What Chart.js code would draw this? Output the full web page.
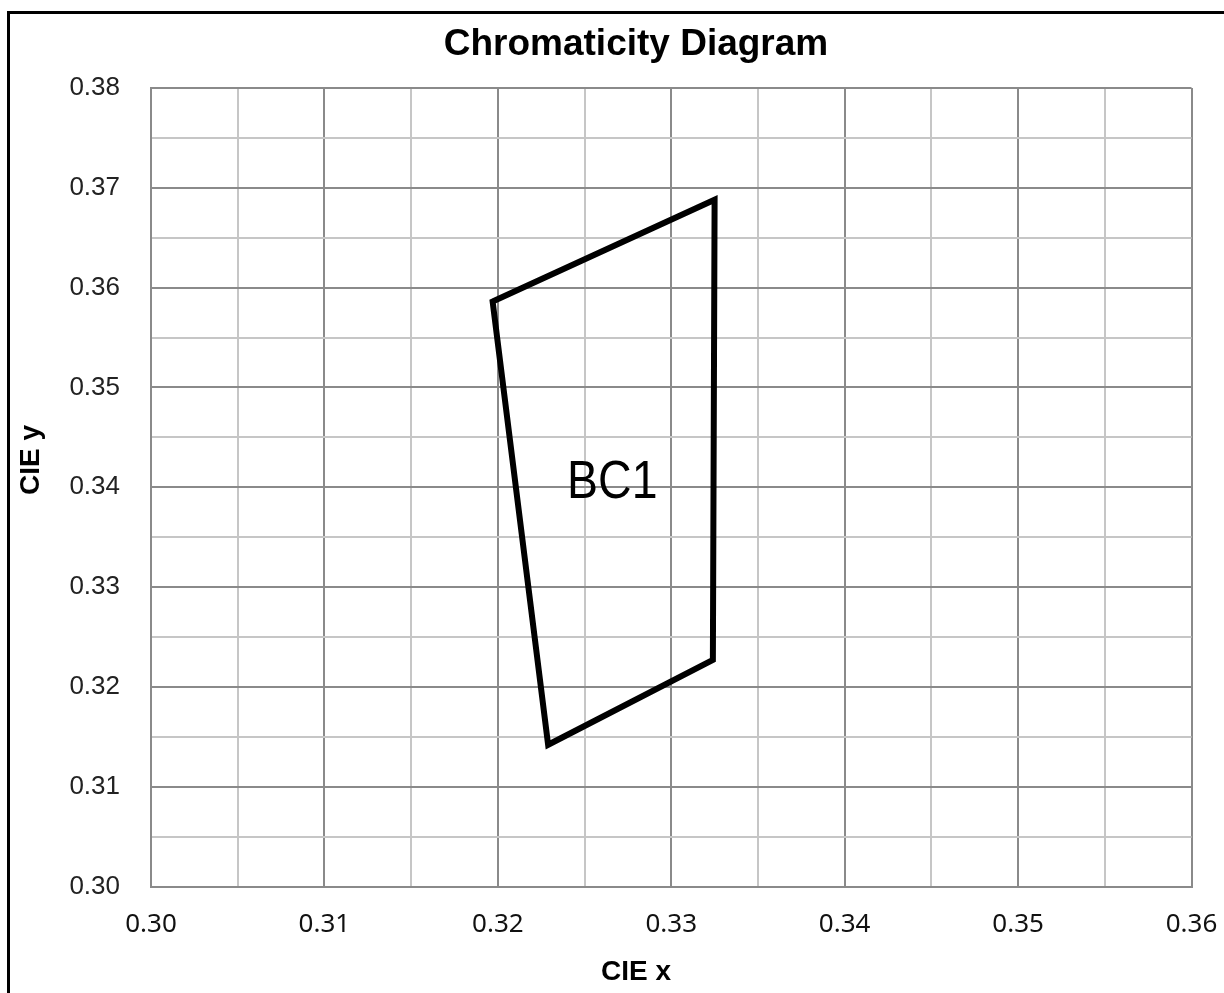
<!DOCTYPE html>
<html>
<head>
<meta charset="utf-8">
<title>Chromaticity Diagram</title>
<script src="https://cdn.jsdelivr.net/npm/chart.js@4.4.1/dist/chart.umd.min.js"></script>
<style>
  html, body { margin: 0; padding: 0; background: #fff; overflow: hidden; }
  #wrap { position: relative; width: 1224px; height: 993px; overflow: hidden; }
  #frame {
    position: absolute; left: 7px; top: 11px; width: 1400px; height: 1200px;
    border: 3px solid #000; pointer-events: none;
  }
  canvas { position: absolute; left: 0; top: 0; }
</style>
</head>
<body>
<div id="wrap">
  <canvas id="chart" width="1264" height="993"></canvas>
  <div id="frame"></div>
</div>
<script>
// BC1 quadrangle corners (CIE x, CIE y); the outline runs round once and
// goes on to the second corner again so the first corner gets a proper join
const cornerX = [0.3197, 0.3325, 0.3324, 0.3229, 0.3197, 0.3325]
const cornerY = [0.3586, 0.3688, 0.3227, 0.3142, 0.3586, 0.3688]

const regionLabels = ['BC1']
const regionLabelX = [0.3266]
const regionLabelY = [0.3404]

const xMin = 0.30, xMax = 0.36
const yMin = 0.30, yMax = 0.38
const gridStep = 0.005

const xTitle = 'CIE x'
const yTitle = 'CIE y'

const isMajor = v => Math.round(v * 1000) % 10 === 0
const tickText = v => isMajor(v) ? v.toFixed(2) : ''
const gridColor = ctx => (ctx.tick && isMajor(ctx.tick.value)) ? '#8a8a8a' : '#c6c6c6'

// writes the region name inside the shape (squeezed a little, like a narrow face)
const regionText = {
  id: 'regionText',
  afterDatasetsDraw(chart) {
    const {ctx, scales} = chart
    ctx.save()
    ctx.fillStyle = '#000'
    ctx.font = '54px Arial, "Liberation Sans", sans-serif'
    ctx.textAlign = 'center'
    ctx.textBaseline = 'middle'
    regionLabels.forEach((t, i) => {
      ctx.save()
      ctx.translate(scales.x.getPixelForValue(regionLabelX[i]), scales.y.getPixelForValue(regionLabelY[i]))
      ctx.scale(0.86, 1)
      ctx.fillText(t, 0, 0)
      ctx.restore()
    })
    ctx.restore()
  }
}

// axis titles are centred on the whole chart box, not on the plot area
const axisTitles = {
  id: 'axisTitles',
  afterDraw(chart) {
    const {ctx} = chart
    const pad = chart.options.layout.padding
    ctx.save()
    ctx.fillStyle = '#000'
    ctx.font = 'bold 28px Arial, "Liberation Sans", sans-serif'
    ctx.textAlign = 'center'
    ctx.textBaseline = 'middle'
    ctx.fillText(xTitle, (pad.left + chart.width) / 2, chart.height - 21)
    ctx.translate(pad.left + 23, 460)
    ctx.rotate(-Math.PI / 2)
    ctx.fillText(yTitle, 0, 0)
    ctx.restore()
  }
}

const whiteBg = {
  id: 'whiteBg',
  beforeDraw(chart) {
    const {ctx} = chart
    ctx.save()
    ctx.fillStyle = '#fff'
    ctx.fillRect(0, 0, chart.width, chart.height)
    ctx.restore()
  }
}

new Chart(document.getElementById('chart'), {
  type: 'scatter',
  data: {
    datasets: [{
      label: 'BC1',
      data: cornerX.map((x, i) => ({x: x, y: cornerY[i]})),
      showLine: true,
      fill: false,
      borderColor: '#000',
      borderWidth: 6,
      borderJoinStyle: 'miter',
      pointRadius: 0,
      pointHoverRadius: 0,
      tension: 0
    }]
  },
  options: {
    responsive: false,
    animation: false,
    events: [],
    layout: { padding: { left: 8, top: 12, right: 0, bottom: 0 } },
    plugins: {
      legend: { display: false },
      tooltip: { enabled: false },
      title: {
        display: true,
        text: 'Chromaticity Diagram',
        color: '#000',
        font: { family: 'Arial, "Liberation Sans", sans-serif', size: 37, weight: 'bold', lineHeight: 1 },
        padding: { top: 14, bottom: 25 }
      }
    },
    scales: {
      x: {
        type: 'linear',
        min: xMin,
        max: xMax,
        border: { color: '#8a8a8a', width: 2 },
        grid: { color: gridColor, lineWidth: 2, drawTicks: false },
        ticks: {
          stepSize: gridStep,
          autoSkip: false,
          maxRotation: 0,
          padding: 22,
          color: '#111',
          font: { family: '"Noto Sans", "Open Sans", sans-serif', size: 26 },
          callback: tickText
        },
        afterFit: s => { s.height = 106.5 }
      },
      y: {
        type: 'linear',
        min: yMin,
        max: yMax,
        border: { color: '#8a8a8a', width: 2 },
        grid: { color: gridColor, lineWidth: 2, drawTicks: false },
        ticks: {
          stepSize: gridStep,
          autoSkip: false,
          padding: 31,
          color: '#222',
          font: { family: 'Arial, "Liberation Sans", sans-serif', size: 26 },
          callback: tickText
        },
        afterFit: s => { s.width = 143 }
      },
      // empty right-hand axis, only keeps room to the right of the plot
      yRight: {
        type: 'linear',
        position: 'right',
        display: true,
        grid: { display: false, drawTicks: false },
        border: { display: false },
        ticks: { display: false },
        afterFit: s => { s.width = 72.5 }
      }
    }
  },
  plugins: [whiteBg, regionText, axisTitles]
})
</script>
</body>
</html>
